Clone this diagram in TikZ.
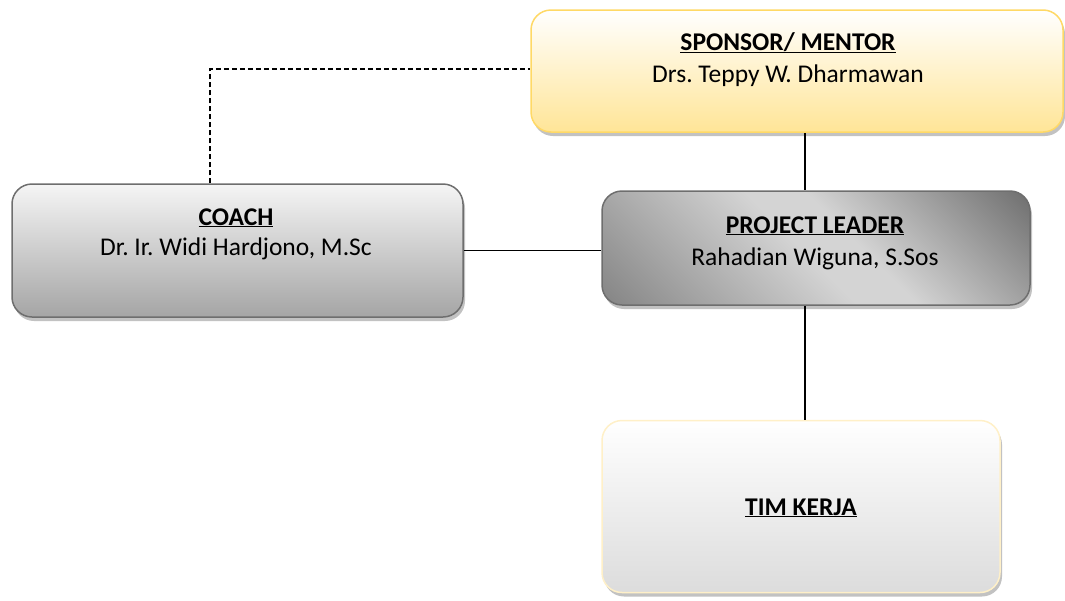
\documentclass[tikz,border=0pt]{standalone}
\usepackage{fontspec}
\setmainfont{Carlito}
\usetikzlibrary{shadows}
\definecolor{sponsorborder}{HTML}{FFD966}
\definecolor{sponsorbottom}{HTML}{FFE597}
\definecolor{coachborder}{HTML}{6E6E6E}
\definecolor{coachbottom}{HTML}{A5A5A5}
\definecolor{timborder}{HTML}{FFF0C8}
\definecolor{timbottom}{HTML}{DCDCDC}
\definecolor{lsA}{HTML}{747474}
\definecolor{lsB}{HTML}{D4D4D4}
\definecolor{lsC}{HTML}{5E5E5E}
\pgfdeclareverticalshading{leadershade}{100bp}{color(0bp)=(lsA); color(8bp)=(lsA); color(48bp)=(lsB); color(56bp)=(lsB); color(90bp)=(lsC); color(100bp)=(lsC)}
\frenchspacing
\tikzset{
  orgbox/.style={rounded corners=20pt, line width=1.5pt, inner sep=0pt,
    drop shadow={shadow xshift=2pt, shadow yshift=-4pt, fill=black!40, opacity=0.6}},
  boxtitle/.style={font=\fontsize{25.5}{30}\selectfont\bfseries, anchor=base},
  boxname/.style={font=\fontsize{25.5}{30}\selectfont, anchor=base},
  orglink/.style={line width=1.2pt, black},
}
\begin{document}
\begin{tikzpicture}[x=1pt,y=-1pt]
\useasboundingbox (0,0) rectangle (1065,600);
% boxes
\node[orgbox, draw=sponsorborder, top color=white, bottom color=sponsorbottom,
  minimum width=532pt, minimum height=122pt] (sponsor) at (797,71) {};
\node[orgbox, draw=coachborder, top color=white!96!black, bottom color=coachbottom,
  minimum width=451pt, minimum height=133pt] (coach) at (237.5,250.5) {};
\node[orgbox, draw=coachborder, shading=leadershade, shading angle=-45,
  minimum width=428pt, minimum height=114pt] (leader) at (816,248) {};
\node[orgbox, draw=timborder, top color=white, bottom color=timbottom,
  minimum width=398pt, minimum height=172pt] (tim) at (801,506.5) {};
% texts
\node[boxtitle] (sponsortitle) at (788,50) {\underline{SPONSOR/ MENTOR}};
\node[boxname] (sponsorname) at (788,82) {Drs. Teppy W. Dharmawan};
\node[boxtitle] (coachtitle) at (236,225) {\underline{COACH}};
\node[boxname] (coachname) at (236,255) {Dr. Ir. Widi Hardjono, M.Sc};
\node[boxtitle] (leadertitle) at (815,233) {\underline{PROJECT LEADER}};
\node[boxname] (leadername) at (815,265) {Rahadian Wiguna, S.Sos};
\node[boxtitle] (timtitle) at (801,515) {\underline{TIM KERJA}};
% connectors
\coordinate (corner) at (210,69);
\coordinate (vline) at (805,0);
\draw[orglink, dash pattern=on 5pt off 3pt] (coach.north -| corner) -- (corner) -- (corner -| sponsor.west);
\draw[orglink] (sponsor.south -| vline) -- (leader.north -| vline);
\draw[orglink] (coach.east) -- (coach.east -| leader.west);
\draw[orglink] (leader.south -| vline) -- (tim.north -| vline);
\end{tikzpicture}
\end{document}
